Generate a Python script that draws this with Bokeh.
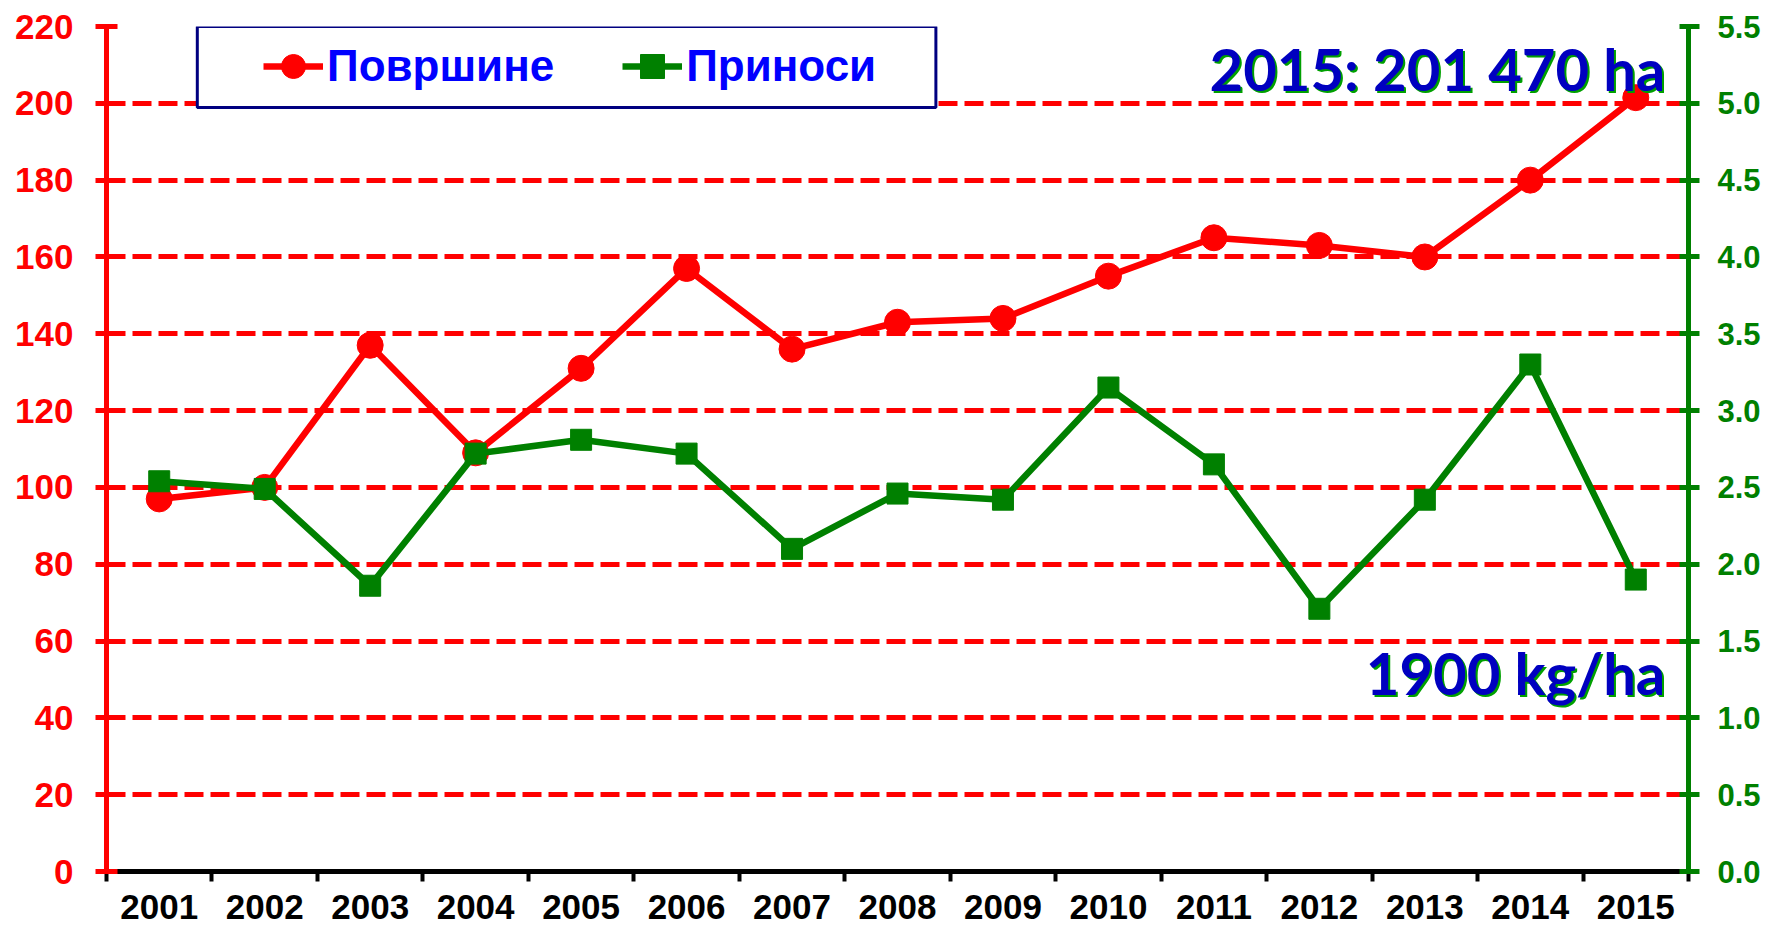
from bokeh.plotting import figure
from bokeh.models import (Range1d, LinearAxis, FixedTicker, Legend, LegendItem, Label,
                          BoxAnnotation, PrintfTickFormatter)
from bokeh.embed import file_html
from bokeh.resources import INLINE

years = ["2001", "2002", "2003", "2004", "2005", "2006", "2007", "2008",
         "2009", "2010", "2011", "2012", "2013", "2014", "2015"]
area_kha = [97, 100, 137, 109, 131, 157, 136, 143, 144, 155, 165, 163, 160, 180, 201.47]
yield_t = [2.54, 2.49, 1.86, 2.72, 2.81, 2.72, 2.10, 2.46, 2.42, 3.15, 2.65, 1.71, 2.42, 3.30, 1.90]
left_ticks = [0, 20, 40, 60, 80, 100, 120, 140, 160, 180, 200, 220]
right_ticks = [0.0, 0.5, 1.0, 1.5, 2.0, 2.5, 3.0, 3.5, 4.0, 4.5, 5.0, 5.5]
legend_labels = ["Површине", "Приноси"]
note_area = "2015: 201 470 ha"
note_yield = "1900 kg/ha"

RED = "#FF0000"
GREEN = "#008000"
FONT = "Liberation Sans"

xs = list(range(1, len(years) + 1))

p = figure(width=1763, height=932, x_range=Range1d(0.5, len(years) + 0.5),
           y_range=Range1d(left_ticks[0], left_ticks[-1]),
           output_backend="svg", toolbar_location=None,
           min_border_left=106, min_border_right=72, min_border_top=26, min_border_bottom=61)
p.outline_line_color = None
p.background_fill_color = "white"
p.border_fill_color = "white"

p.extra_y_ranges = {"yield": Range1d(right_ticks[0], right_ticks[-1])}

# x axis
xa = p.xaxis[0]
xa.ticker = FixedTicker(ticks=xs, minor_ticks=[i + 0.5 for i in range(len(years) + 1)])
xa.major_label_overrides = {x: y for x, y in zip(xs, years)}
xa.major_tick_out = 0
xa.major_tick_in = 0
xa.minor_tick_out = 10
xa.minor_tick_in = 0
xa.minor_tick_line_color = "black"
xa.minor_tick_line_width = 4
xa.axis_line_color = "black"
xa.axis_line_width = 5
xa.major_label_text_font = FONT
xa.major_label_text_font_style = "bold"
xa.major_label_text_font_size = "35px"
xa.major_label_text_color = "black"
xa.major_label_standoff = 13

# left axis
ya = p.yaxis[0]
ya.ticker = FixedTicker(ticks=left_ticks)
ya.axis_line_color = RED
ya.axis_line_width = 5
ya.major_tick_line_color = RED
ya.major_tick_line_width = 5
ya.major_tick_out = 11
ya.major_tick_in = 11
ya.minor_tick_line_color = None
ya.major_label_text_font = FONT
ya.major_label_text_font_style = "bold"
ya.major_label_text_font_size = "35px"
ya.major_label_text_color = RED
ya.major_label_standoff = 22

# right axis
ra = LinearAxis(y_range_name="yield", ticker=FixedTicker(ticks=right_ticks),
                formatter=PrintfTickFormatter(format="%.1f"))
ra.axis_line_color = GREEN
ra.axis_line_width = 5
ra.major_tick_line_color = GREEN
ra.major_tick_line_width = 5
ra.major_tick_out = 11
ra.major_tick_in = 9
ra.minor_tick_line_color = None
ra.major_label_text_font = FONT
ra.major_label_text_font_style = "bold"
ra.major_label_text_font_size = "31px"
ra.major_label_text_color = GREEN
ra.major_label_standoff = 18
p.add_layout(ra, "right")

# grid
p.xgrid.grid_line_color = None
p.ygrid.ticker = FixedTicker(ticks=left_ticks[1:])
p.ygrid.grid_line_color = RED
p.ygrid.grid_line_width = 5
p.ygrid.grid_line_dash = "19 7"

# series
r_line = p.line(xs, area_kha, line_color=RED, line_width=6.5)
r_mark = p.scatter(xs, area_kha, marker="circle", size=26, fill_color=RED, line_color=RED)
g_line = p.line(xs, yield_t, y_range_name="yield", line_color=GREEN, line_width=6.5)
g_mark = p.scatter(xs, yield_t, y_range_name="yield", marker="square", size=21,
                   fill_color=GREEN, line_color=GREEN)

# legend frame + legend
box = BoxAnnotation(left=1.361, right=8.364, bottom=198.9, top=220,
                    fill_color="white", fill_alpha=1.0,
                    line_color="#000080", line_alpha=1.0, line_width=3)
p.add_layout(box)

legend = Legend(items=[LegendItem(label=legend_labels[0], renderers=[r_line, r_mark]),
                       LegendItem(label=legend_labels[1], renderers=[g_line, g_mark])],
                orientation="horizontal", location=(147, 765), padding=10, spacing=68,
                glyph_width=60, glyph_height=60, label_standoff=4,
                background_fill_alpha=0, border_line_alpha=0,
                label_text_font=FONT, label_text_font_style="bold",
                label_text_font_size="44px", label_text_color="#0000FF",
                label_text_baseline="middle")
p.add_layout(legend)

# annotations with green shadow
for txt, yv in [(note_area, 209.1), (note_yield, 51.8)]:
    shadow = Label(x=15.28, y=yv, text=txt, text_align="right", text_baseline="alphabetic",
                   text_font="Lato", text_font_style="bold", text_font_size="58px",
                   text_color="#00A000", x_offset=2, y_offset=-2)
    main = Label(x=15.28, y=yv, text=txt, text_align="right", text_baseline="alphabetic",
                 text_font="Lato", text_font_style="bold", text_font_size="58px",
                 text_color="#0000C0")
    p.add_layout(shadow)
    p.add_layout(main)

open("out.html", "w").write(file_html(p, INLINE))
